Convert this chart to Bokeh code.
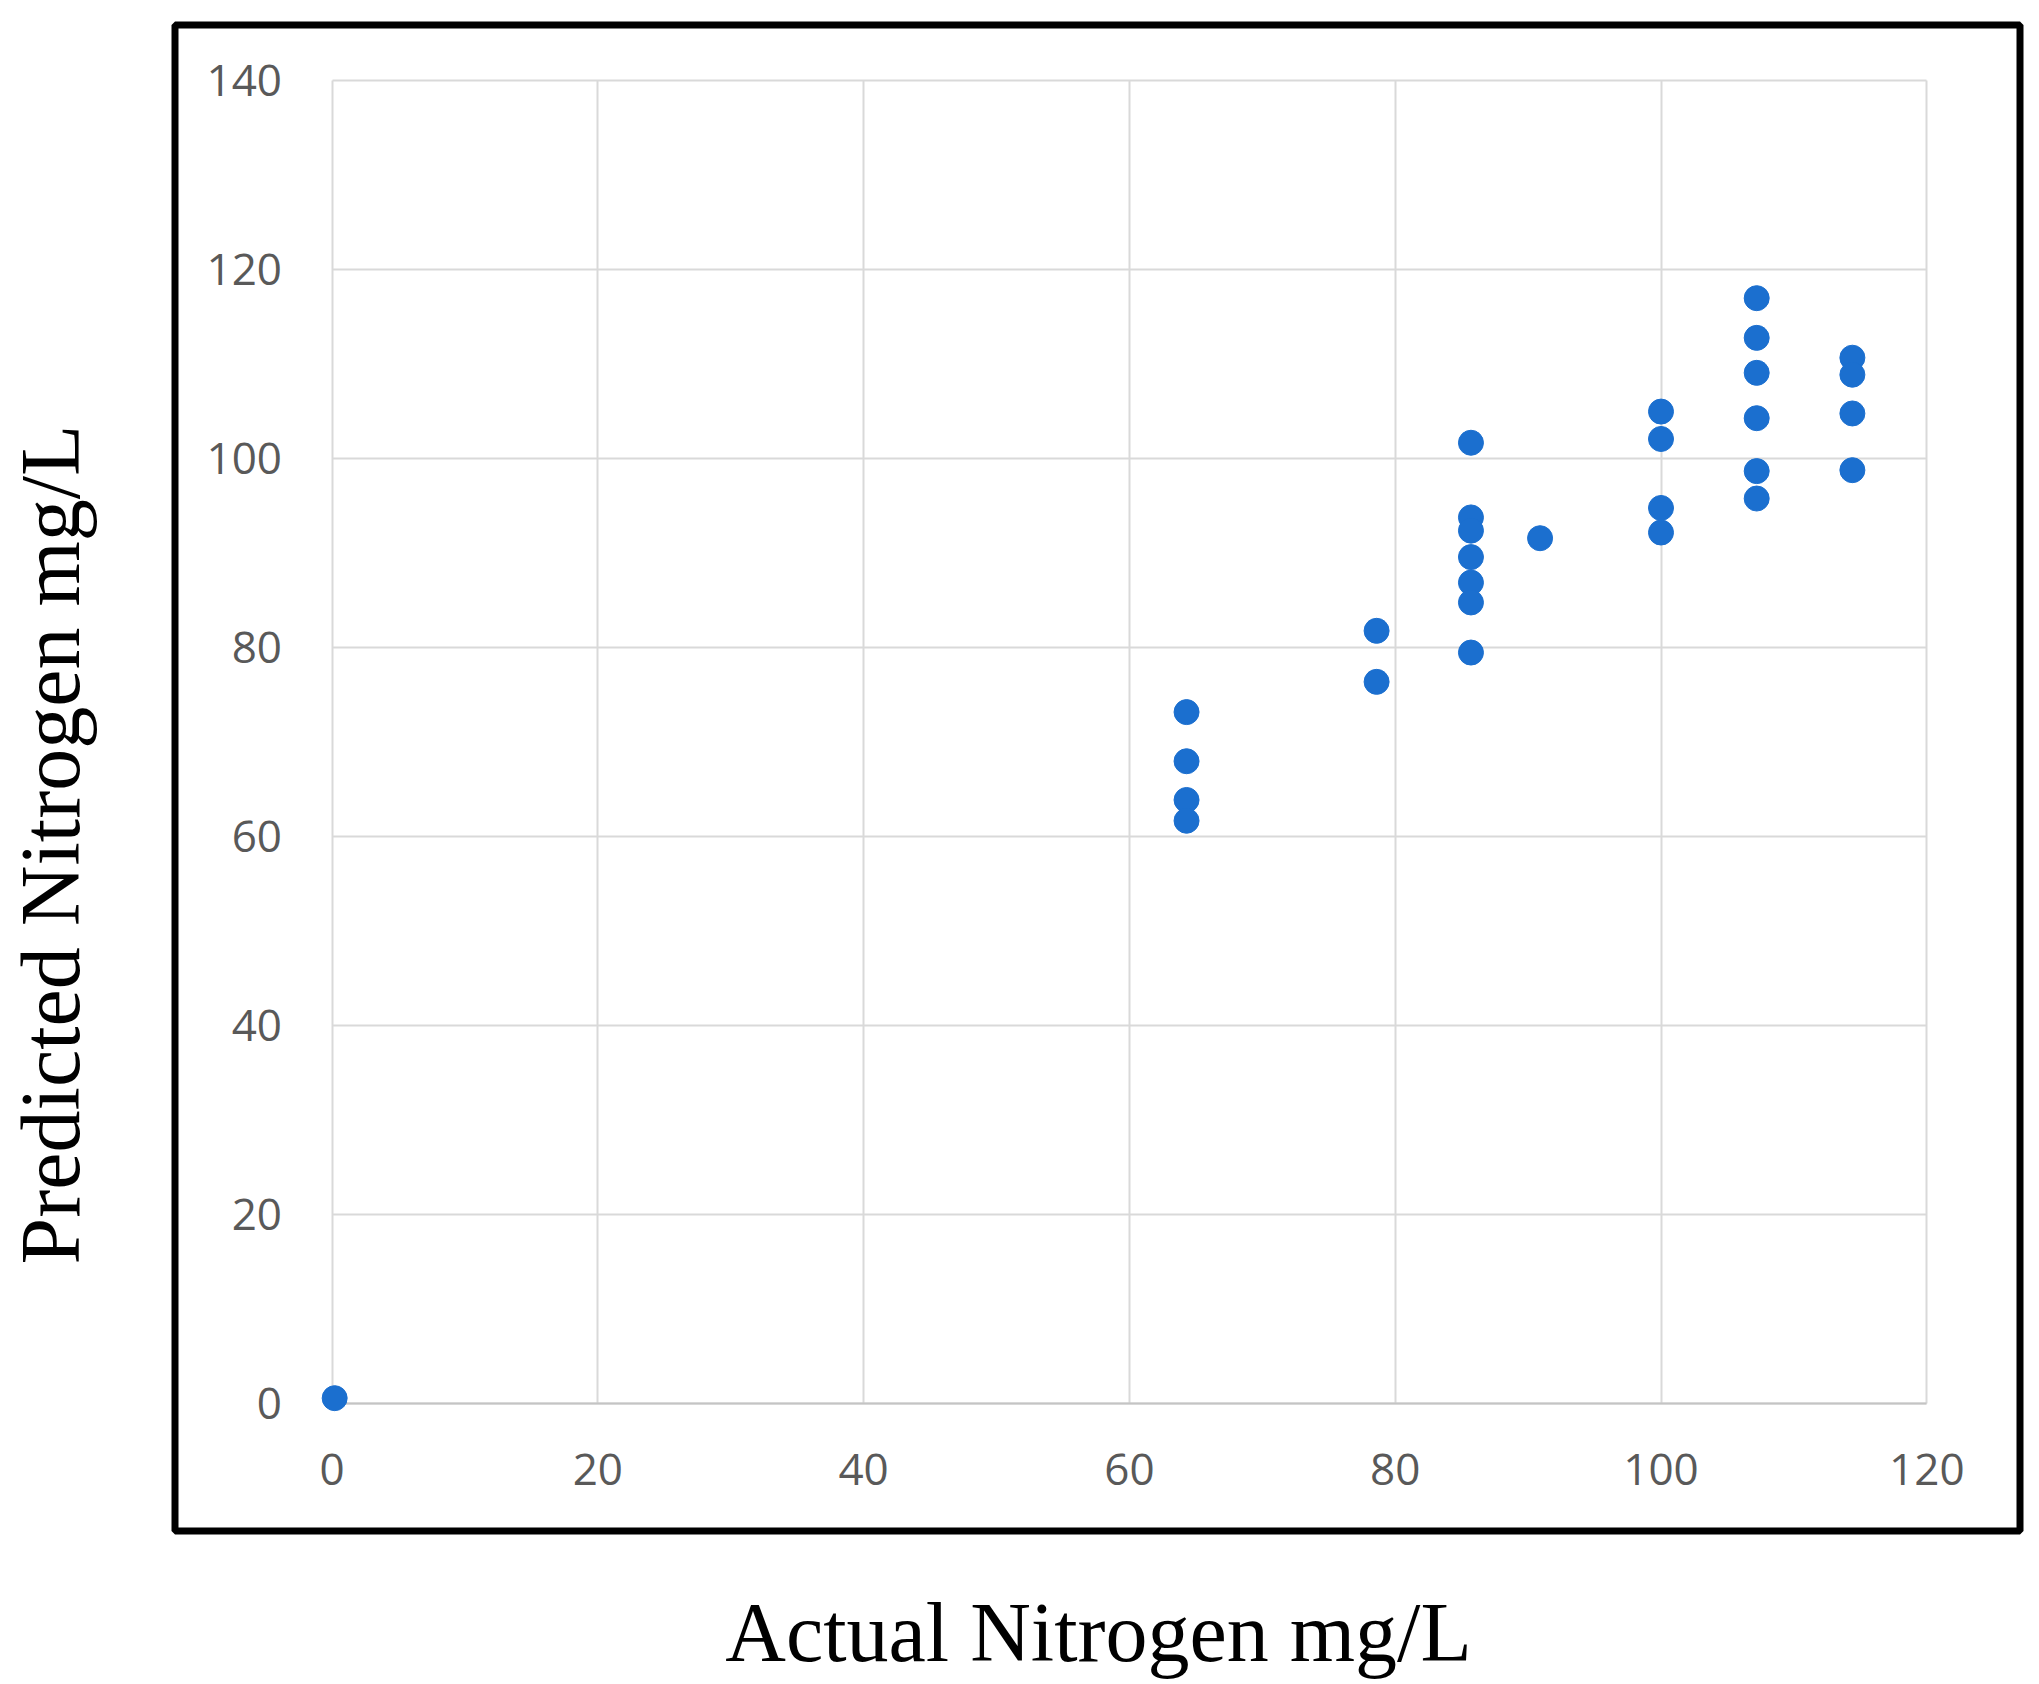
import math
from bokeh.plotting import figure
from bokeh.models import Range1d, FixedTicker, ColumnDataSource, Grid, BoxAnnotation, Label
from bokeh.embed import file_html
from bokeh.resources import INLINE

# Data
actual = [0.2,
          64.3, 64.3, 64.3, 64.3,
          78.6, 78.6,
          85.7, 85.7, 85.7, 85.7, 85.7, 85.7, 85.7,
          90.9,
          100.0, 100.0, 100.0, 100.0,
          107.2, 107.2, 107.2, 107.2, 107.2, 107.2,
          114.4, 114.4, 114.4, 114.4]
predicted = [0.6,
             73.2, 68.0, 63.9, 61.7,
             81.8, 76.4,
             101.7, 93.8, 92.4, 89.6, 86.9, 84.8, 79.5,
             91.6,
             105.0, 102.1, 94.8, 92.2,
             117.0, 112.8, 109.1, 104.3, 98.7, 95.8,
             110.7, 108.9, 104.8, 98.8]
x_ticks = [0, 20, 40, 60, 80, 100, 120]
y_ticks = [0, 20, 40, 60, 80, 100, 120, 140]
x_title = "Actual Nitrogen mg/L"
y_title = "Predicted Nitrogen mg/L"

W, H = 2039, 1684
# the plot frame covers the whole canvas; the 0-120 / 0-140 area sits inside it
p = figure(width=W, height=H, output_backend="svg", toolbar_location=None,
           x_range=Range1d(-24.944, 128.48), y_range=Range1d(-29.70, 148.50),
           min_border_left=0, min_border_right=0,
           min_border_top=0, min_border_bottom=0)
p.title.visible = False
p.outline_line_color = None
p.background_fill_color = "white"
p.border_fill_color = "white"

x_lim = (x_ticks[0], x_ticks[-1])
y_lim = (y_ticks[0], y_ticks[-1])
p.xgrid.ticker = FixedTicker(ticks=x_ticks)
p.ygrid.ticker = FixedTicker(ticks=y_ticks)
p.xgrid.bounds = x_lim
p.xgrid.cross_bounds = y_lim
p.ygrid.bounds = y_lim
p.ygrid.cross_bounds = x_lim
p.grid.grid_line_color = "#d9d9d9"
p.grid.grid_line_width = 2

# slightly darker base line along y = 0
base = Grid(dimension=1, ticker=FixedTicker(ticks=[0]), bounds=y_lim, cross_bounds=x_lim,
            grid_line_color="#c4c4c4", grid_line_width=2)
p.add_layout(base)

p.xaxis.ticker = FixedTicker(ticks=x_ticks)
p.yaxis.ticker = FixedTicker(ticks=y_ticks)
for ax in (p.xaxis[0], p.yaxis[0]):
    ax.fixed_location = 0
    ax.axis_line_color = None
    ax.major_tick_line_color = None
    ax.minor_tick_line_color = None
    ax.major_label_text_font = "Open Sans"
    ax.major_label_text_font_size = "44px"
    ax.major_label_text_color = "#595959"
p.xaxis.bounds = x_lim
p.yaxis.bounds = y_lim
p.xaxis.major_label_standoff = 44
p.yaxis.major_label_standoff = 44

src = ColumnDataSource(dict(x=actual, y=predicted))
p.scatter("x", "y", source=src, size=25, fill_color="#1b6fcf", line_color="#1b6fcf")

# black box around the chart area (screen units, measured from the bottom-left)
box = BoxAnnotation(left=174.5, right=2019.5, top=1659.5, bottom=153.5,
                    left_units="screen", right_units="screen",
                    top_units="screen", bottom_units="screen",
                    fill_color=None, fill_alpha=0,
                    line_color="black", line_width=7, line_alpha=1)
p.add_layout(box)

xl = Label(x=1098, y=52, x_units="screen", y_units="screen", text=x_title,
           text_align="center", text_baseline="alphabetic",
           text_font="Liberation Serif", text_font_size="84px", text_color="black")
yl = Label(x=50, y=840, x_units="screen", y_units="screen", text=y_title, angle=math.pi / 2,
           text_align="center", text_baseline="alphabetic",
           text_font="Liberation Serif", text_font_size="84px", text_color="black")
p.add_layout(xl)
p.add_layout(yl)

open("out.html", "w").write(file_html(p, INLINE))
